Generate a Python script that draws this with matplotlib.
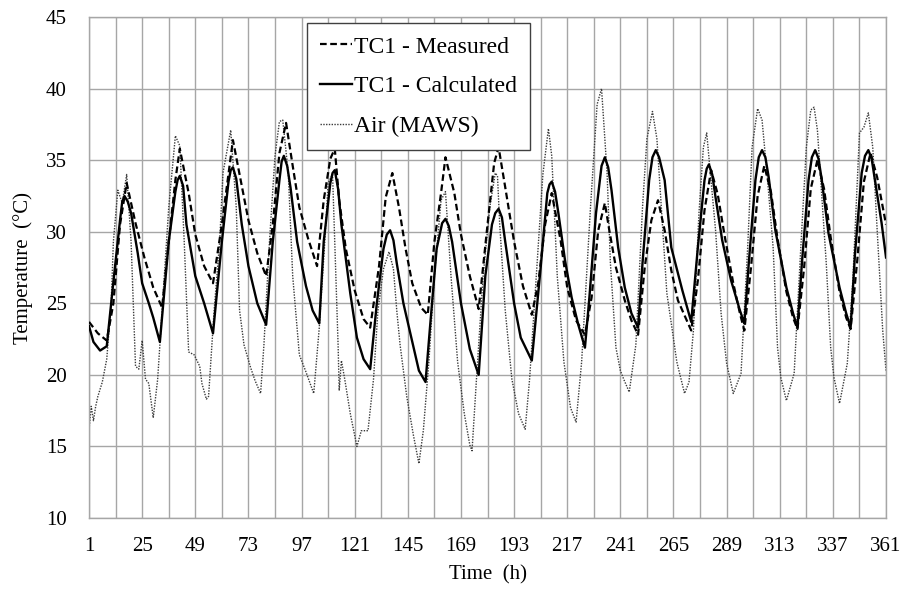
import matplotlib
matplotlib.use('Agg')
import matplotlib.pyplot as plt

plt.rcParams['font.family'] = ['Liberation Serif', 'DejaVu Serif']

# TC1 - Measured (hour, temperature)
meas_h = [1, 5, 9, 12, 15, 18, 22, 26, 30, 34, 37, 40, 42, 46, 49, 53, 57, 61, 66, 69,
          73, 77, 81, 84, 87, 90, 93, 96, 100, 104, 107, 110, 112, 114, 117, 121, 125, 128, 132, 135,
          138, 141, 144, 147, 151, 154, 157, 160, 162, 166, 169, 173, 177, 181, 184, 186, 189, 193, 197, 201,
          204, 207, 210, 214, 217, 221, 225, 228, 231, 234, 236, 239, 243, 246, 249, 252, 255, 258, 261, 264,
          267, 271, 273, 276, 279, 282, 285, 288, 292, 295, 297, 300, 303, 306, 309, 312, 316, 319, 321, 324,
          327, 330, 333, 336, 340, 343, 345, 348, 351, 354, 357, 361]
meas_t = [23.7, 22.9, 22.4, 25.0, 30.5, 33.4, 30.6, 28.2, 26.1, 24.7, 29.3, 33.6, 35.8, 32.7, 29.8, 27.6, 26.4, 30.5, 36.4, 34.0,
          30.8, 28.5, 26.9, 30.5, 35.5, 37.6, 34.6, 31.7, 29.5, 27.6, 32.2, 35.1, 35.8, 32.2, 28.8, 25.9, 23.9, 23.3, 27.6, 32.4,
          34.1, 31.7, 28.8, 26.4, 24.7, 24.2, 29.3, 32.7, 35.2, 32.7, 29.8, 26.9, 24.6, 30.5, 34.8, 35.9, 33.1, 29.3, 26.2, 24.2,
          26.5, 30.5, 32.7, 29.4, 26.1, 23.8, 22.8, 25.4, 30.1, 32.0, 30.1, 27.5, 25.2, 23.8, 22.8, 27.5, 30.8, 32.2, 30.1, 27.3,
          25.2, 23.8, 23.1, 26.6, 31.5, 34.3, 32.6, 29.8, 26.4, 24.3, 23.1, 27.5, 32.5, 34.6, 32.8, 29.5, 25.8, 24.0, 23.2, 27.5,
          33.0, 35.0, 33.0, 29.6, 25.8, 24.0, 23.2, 28.0, 33.5, 35.5, 33.8, 30.5]

# TC1 - Calculated
calc_h = [1, 3, 6, 9, 12, 15, 16, 17, 18.5, 20, 23, 25, 28, 30, 33, 37, 40, 41, 42, 43.5,
          45, 49, 53, 57, 61, 64, 65, 66, 67.5, 70, 73, 77, 81, 84, 87, 88, 89, 90.5, 92, 95,
          99, 102, 105, 107, 110, 111, 112, 113.5, 115, 119, 122, 125, 128, 131, 134, 135.5, 137, 138.5, 140, 143,
          147, 150, 153, 155, 158, 160.5, 162, 163.5, 165, 169, 173, 177, 180, 183, 184.5, 186, 187.5, 189, 193, 196,
          201, 205, 208, 209, 210, 211.5, 213, 216, 219, 222, 225, 227, 230, 232.5, 234, 235.5, 237, 240, 243, 246,
          249, 251, 254, 255.5, 257, 258.5, 261, 264, 269, 273, 276, 279, 280, 281, 282.5, 284, 287, 291, 295, 297,
          299, 302, 303.5, 305, 306.5, 308, 311, 316, 319, 321, 323, 326, 327.5, 329, 330.5, 332, 335, 340, 343, 345,
          347, 350, 351.5, 353, 354.5, 356, 359, 361]
calc_t = [23.4, 22.3, 21.7, 22.0, 26.5, 30.8, 32.1, 32.5, 32.1, 31.3, 28.5, 26.4, 25.0, 24.0, 22.3, 29.3, 32.8, 33.6, 33.9, 33.2,
          30.5, 26.9, 25.0, 22.9, 29.3, 33.5, 34.3, 34.5, 33.7, 30.5, 27.6, 25.0, 23.5, 29.3, 33.6, 34.9, 35.3, 34.6, 33.1, 29.3,
          26.2, 24.5, 23.6, 29.3, 33.4, 34.1, 34.3, 33.0, 30.5, 25.7, 22.6, 21.1, 20.4, 25.0, 28.8, 29.8, 30.1, 29.4, 27.8, 25.0,
          22.3, 20.3, 19.5, 23.3, 28.8, 30.6, 30.9, 30.4, 29.3, 25.0, 21.8, 20.0, 26.9, 30.5, 31.3, 31.6, 31.0, 29.3, 25.0, 22.6,
          21.0, 27.5, 32.7, 33.3, 33.5, 32.8, 31.3, 28.0, 25.4, 23.5, 21.9, 25.4, 31.3, 34.6, 35.2, 34.5, 32.9, 28.9, 26.1, 24.3,
          23.3, 27.8, 33.6, 35.2, 35.7, 35.2, 33.6, 28.9, 25.9, 23.7, 28.9, 33.6, 34.4, 34.7, 34.0, 32.4, 29.4, 26.6, 24.5, 23.6,
          27.8, 33.6, 35.2, 35.7, 35.2, 33.8, 30.1, 26.1, 24.3, 23.3, 27.8, 33.6, 35.2, 35.7, 35.1, 33.6, 29.9, 26.1, 24.3, 23.3,
          28.5, 34.1, 35.3, 35.7, 35.1, 33.6, 30.6, 28.2]

# Air (MAWS)
air_h = [1, 2, 3, 4, 5, 7, 9, 11, 12, 14, 16, 18, 20, 22, 23.5, 25, 26.5, 28, 30, 32,
         34, 37, 40, 42, 44, 46, 48.5, 51, 52, 54, 55, 57.5, 60, 61.5, 65, 67.5, 69, 71, 74, 76,
         78.5, 80, 82.5, 85, 87, 88.5, 91, 93, 96, 99, 102.5, 105, 107.5, 109, 111, 113.5, 114, 115, 116.5, 119,
         122, 124, 127, 129.5, 131.5, 134, 136.5, 138.5, 140, 141.5, 144.5, 147.5, 150, 152, 154.5, 157, 160, 162, 164.5, 167.5,
         170.5, 173, 174, 176, 179, 182, 184.5, 185.5, 186.5, 189, 192, 195, 198, 200, 203, 206, 208.5, 210, 212.5, 215.5,
         218.5, 221, 223.5, 227.5, 230.5, 232.5, 235, 236.5, 239, 241, 242.5, 245, 248, 251, 253, 255.5, 257.5, 260, 262, 264,
         266.5, 270, 272, 274, 276.5, 278.5, 280, 284, 286.5, 289, 292, 295.5, 298.5, 300.5, 303, 305, 307.5, 310, 312, 313.5,
         316, 319.5, 322.5, 325, 327, 328.5, 330, 331.5, 334, 336, 337.5, 340, 343.5, 346, 349, 351, 353, 355, 357, 359.5,
         361]
air_t = [16.2, 17.8, 16.8, 17.8, 18.5, 19.5, 21.1, 25.0, 29.3, 32.9, 32.0, 34.0, 29.3, 20.6, 20.4, 22.4, 19.7, 19.4, 17.0, 19.7,
         24.5, 31.7, 36.7, 36.0, 29.3, 21.6, 21.4, 20.6, 19.4, 18.3, 18.5, 24.5, 29.3, 34.1, 37.1, 31.7, 24.5, 22.1, 20.5, 19.6,
         18.7, 22.1, 29.3, 35.3, 37.7, 37.8, 34.1, 26.9, 21.4, 20.2, 18.7, 23.3, 29.3, 33.4, 34.0, 22.1, 18.9, 21.0, 19.7, 17.3,
         15.0, 16.1, 16.1, 19.7, 24.5, 27.4, 28.6, 27.4, 24.5, 22.1, 18.5, 15.8, 13.8, 16.1, 20.9, 26.9, 32.2, 32.8, 26.9, 20.9,
         17.3, 15.1, 14.7, 19.7, 26.9, 31.7, 34.1, 33.9, 30.5, 24.5, 19.7, 17.3, 16.2, 19.7, 26.8, 34.0, 37.2, 35.3, 26.9, 20.9,
         17.7, 16.7, 20.9, 31.7, 38.9, 40.0, 34.1, 27.8, 21.9, 20.3, 19.7, 18.8, 22.1, 31.7, 36.5, 38.4, 36.5, 30.5, 25.7, 23.6,
         20.9, 18.7, 19.5, 23.1, 31.3, 35.9, 36.9, 30.1, 24.3, 20.8, 18.7, 20.1, 28.9, 35.9, 38.6, 37.8, 33.6, 28.9, 21.9, 19.8,
         18.2, 20.1, 28.9, 35.9, 38.5, 38.7, 37.1, 33.6, 27.8, 21.9, 19.8, 18.0, 20.8, 26.6, 36.9, 37.3, 38.3, 35.9, 30.1, 23.1,
         20.3]

x_ticks = list(range(1, 362, 24))
x_grid = list(range(1, 362, 12))
y_ticks = list(range(10, 46, 5))

fig = plt.figure(figsize=(9.02, 5.94), dpi=100)
ax = fig.add_axes([0.0987, 0.1279, 0.8836, 0.8435])

grid_col = '#a6a6a6'
for g in x_grid:
    ax.axvline(g, color=grid_col, lw=1.0, zorder=0)
for g in y_ticks:
    ax.axhline(g, color=grid_col, lw=1.0, zorder=0)

ax.plot(meas_h, meas_t, color='black', lw=1.6, linestyle=(0, (3, 1.6)), label='TC1 - Measured', zorder=3)
ax.plot(calc_h, calc_t, color='black', lw=1.7, linestyle='-', label='TC1 - Calculated', zorder=4)
ax.plot(air_h, air_t, color='#3a3a3a', lw=1.0, linestyle=(0, (1, 1)), label='Air (MAWS)', zorder=2)

ax.set_xlim(1, 361)
ax.set_ylim(10, 45)
ax.set_xticks(x_ticks)
ax.set_yticks(y_ticks)
ax.tick_params(axis='both', length=0, labelsize=15)
ax.tick_params(axis='y', pad=16)
ax.tick_params(axis='x', pad=14)
for s in ax.spines.values():
    s.set_color(grid_col)
    s.set_linewidth(1.0)

ax.set_xlabel('Time  (h)', fontsize=15)
ax.set_ylabel('Temperature  (\u00b0C)', fontsize=15)
ax.xaxis.set_label_coords(0.5, -0.095)
ax.yaxis.set_label_coords(-0.07, 0.5)

leg = fig.legend(loc='upper left', bbox_to_anchor=(0.3404, 0.9613), bbox_transform=fig.transFigure,
                 fontsize=17, frameon=True, fancybox=False, framealpha=1, edgecolor='#404040',
                 handlelength=1.35, handletextpad=0.1, labelspacing=0.78, borderpad=0.55, borderaxespad=0)
leg.get_frame().set_linewidth(1.0)

fig.savefig('out.png', dpi=100)
